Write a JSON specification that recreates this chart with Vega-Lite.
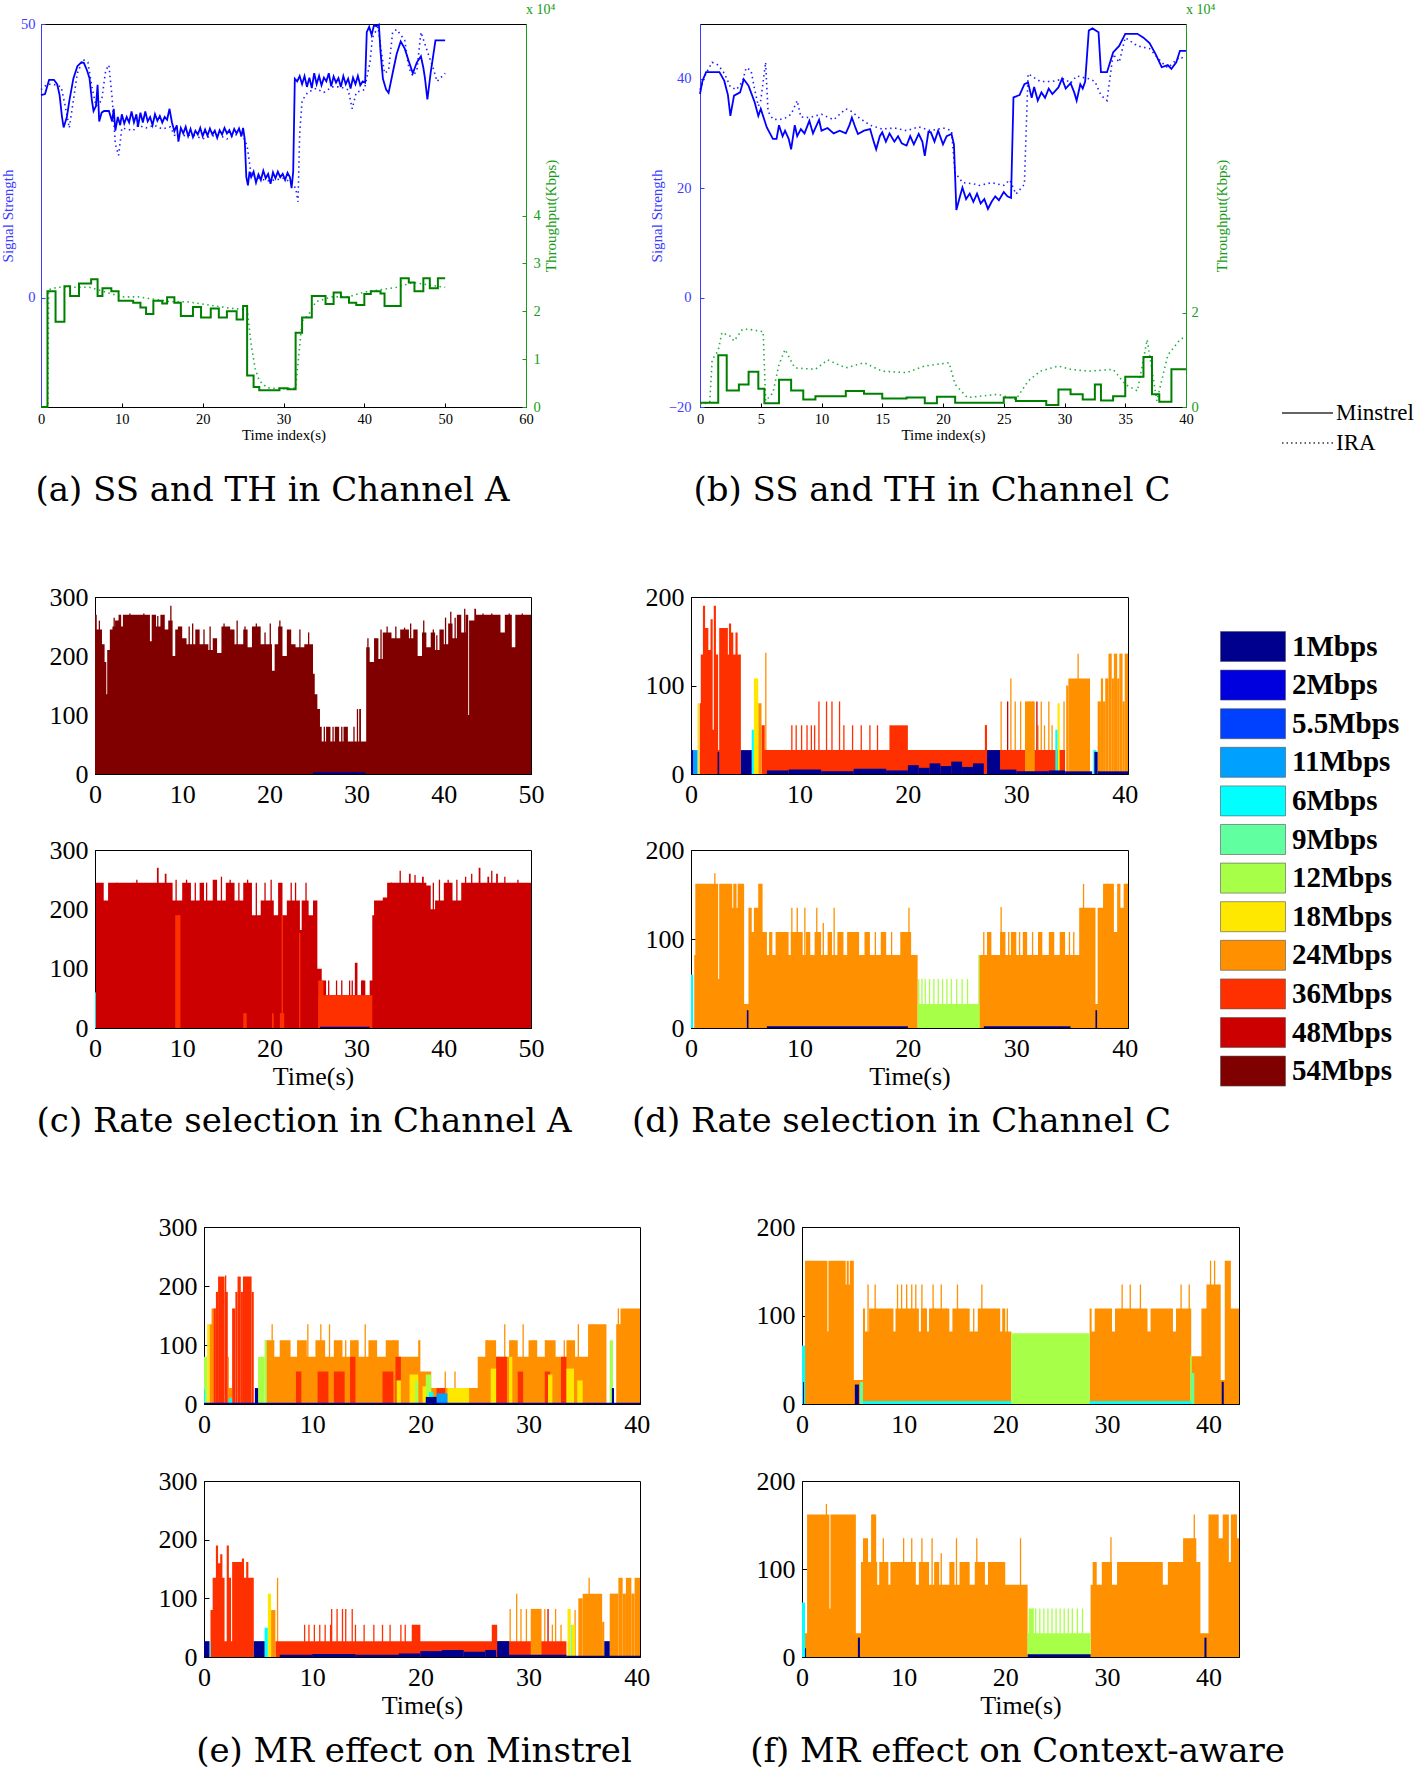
{
"$schema": "https://vega.github.io/schema/vega-lite/v6.json",
"background": "white",
"padding": {"left": 0, "top": 2, "right": 5, "bottom": 5},
"config": {
 "view": {"stroke": "black", "strokeWidth": 1},
 "font": "Liberation Serif",
 "axis": {"labelFont": "Liberation Serif", "titleFont": "Liberation Serif", "labelColor": "black", "titleColor": "black", "domainColor": "black", "tickColor": "black", "grid": false, "titleFontWeight": "normal", "domainWidth": 1},
 "title": {"font": "DejaVu Serif", "fontWeight": "normal", "color": "black"}
},
"datasets": {
 "algs": [{"alg":"Minstrel"},{"alg":"IRA"}],
 "ssAM": [{"t":0,"v":37},{"t":0.5,"v":37.2},{"t":1,"v":39.8},{"t":1.6,"v":39.8},{"t":2,"v":39},{"t":2.3,"v":37},{"t":2.6,"v":33},{"t":2.8,"v":31.1},{"t":3.2,"v":33},{"t":3.5,"v":35.9},{"t":4,"v":40},{"t":4.5,"v":42.3},{"t":5,"v":43},{"t":5.3,"v":42.9},{"t":5.7,"v":41.5},{"t":6,"v":40.1},{"t":6.3,"v":36},{"t":6.5,"v":34.1},{"t":6.8,"v":35},{"t":7,"v":38.9},{"t":7.2,"v":32.2},{"t":7.5,"v":33.8},{"t":7.8,"v":34.1},{"t":8.4,"v":34.1},{"t":8.8,"v":32.2},{"t":9,"v":34.5},{"t":9.2,"v":30.5},{"t":9.5,"v":33},{"t":9.8,"v":31.5},{"t":10,"v":33.5},{"t":10.3,"v":31.8},{"t":10.6,"v":33},{"t":10.9,"v":32},{"t":11.2,"v":34},{"t":11.5,"v":32},{"t":11.8,"v":33.5},{"t":12,"v":31.2},{"t":12.3,"v":33.8},{"t":12.6,"v":32},{"t":12.9,"v":34},{"t":13.2,"v":32.2},{"t":13.5,"v":33},{"t":13.8,"v":31.5},{"t":14.1,"v":33.5},{"t":14.4,"v":32.3},{"t":14.7,"v":33.2},{"t":15,"v":32},{"t":15.3,"v":33},{"t":15.6,"v":32.5},{"t":15.9,"v":34.5},{"t":16.2,"v":32},{"t":16.5,"v":30.4},{"t":16.8,"v":31.5},{"t":17,"v":28.5},{"t":17.3,"v":31},{"t":17.6,"v":30},{"t":17.9,"v":31.2},{"t":18.2,"v":29.5},{"t":18.5,"v":30.8},{"t":18.8,"v":29.3},{"t":19.1,"v":30.5},{"t":19.4,"v":29.8},{"t":19.7,"v":31},{"t":20,"v":29.5},{"t":20.3,"v":30.7},{"t":20.6,"v":29.6},{"t":20.9,"v":30.9},{"t":21.2,"v":29.8},{"t":21.5,"v":30.5},{"t":21.8,"v":29.2},{"t":22.1,"v":30.6},{"t":22.4,"v":29.8},{"t":22.7,"v":31},{"t":23,"v":30},{"t":23.3,"v":30.6},{"t":23.6,"v":29.5},{"t":23.9,"v":30.8},{"t":24.2,"v":30},{"t":24.5,"v":30.9},{"t":24.8,"v":29.5},{"t":25,"v":31},{"t":25.2,"v":29},{"t":25.4,"v":22},{"t":25.6,"v":20.5},{"t":25.8,"v":23},{"t":26,"v":22},{"t":26.3,"v":23},{"t":26.6,"v":21},{"t":26.9,"v":22.5},{"t":27.2,"v":21.5},{"t":27.5,"v":23.2},{"t":27.8,"v":21.8},{"t":28.1,"v":22.6},{"t":28.4,"v":20.8},{"t":28.7,"v":22.9},{"t":29,"v":21.8},{"t":29.3,"v":23},{"t":29.6,"v":22},{"t":29.9,"v":22.6},{"t":30.2,"v":21.5},{"t":30.5,"v":22.8},{"t":30.8,"v":22},{"t":31,"v":20},{"t":31.2,"v":23},{"t":31.4,"v":40},{"t":31.7,"v":39.5},{"t":32,"v":40.5},{"t":32.3,"v":39},{"t":32.6,"v":40.5},{"t":32.9,"v":38.5},{"t":33.2,"v":40.2},{"t":33.5,"v":38.3},{"t":33.8,"v":41},{"t":34.1,"v":39},{"t":34.4,"v":40.5},{"t":34.7,"v":38.8},{"t":35,"v":40.2},{"t":35.3,"v":39.5},{"t":35.6,"v":41},{"t":35.9,"v":38.6},{"t":36.2,"v":40.4},{"t":36.5,"v":39.3},{"t":36.8,"v":40.1},{"t":37.1,"v":38.5},{"t":37.4,"v":40.5},{"t":37.7,"v":39},{"t":38,"v":40},{"t":38.3,"v":38.2},{"t":38.6,"v":40.2},{"t":38.9,"v":39},{"t":39.2,"v":40.5},{"t":39.5,"v":38.8},{"t":39.8,"v":39.5},{"t":40.1,"v":39.3},{"t":40.3,"v":48.5},{"t":40.6,"v":49.5},{"t":40.9,"v":48},{"t":41.2,"v":49.8},{"t":41.5,"v":49.6},{"t":41.8,"v":49.9},{"t":42,"v":45},{"t":42.3,"v":40},{"t":42.7,"v":38},{"t":43,"v":37.4},{"t":43.5,"v":41},{"t":44,"v":44.5},{"t":44.5,"v":46.8},{"t":45,"v":45.5},{"t":45.5,"v":43.2},{"t":46,"v":41},{"t":46.5,"v":43},{"t":47,"v":44.1},{"t":47.3,"v":42},{"t":47.5,"v":40.1},{"t":47.8,"v":36.2},{"t":48.2,"v":41},{"t":48.8,"v":47},{"t":50,"v":47}],
 "ssAI": [{"t":0,"v":38},{"t":0.8,"v":39},{"t":1.5,"v":39},{"t":2.5,"v":38.5},{"t":3,"v":35},{"t":3.5,"v":31},{"t":4,"v":36},{"t":4.5,"v":41},{"t":5.2,"v":43.5},{"t":5.8,"v":43},{"t":6.3,"v":38.5},{"t":6.8,"v":35},{"t":7.5,"v":36},{"t":8,"v":41.5},{"t":8.4,"v":42.5},{"t":8.8,"v":36.5},{"t":9.2,"v":28},{"t":9.6,"v":26},{"t":10,"v":31},{"t":10.6,"v":30.8},{"t":11.4,"v":30.5},{"t":12,"v":31.5},{"t":13,"v":31},{"t":14,"v":31.5},{"t":15,"v":30.8},{"t":16,"v":31.2},{"t":16.5,"v":29.7},{"t":17,"v":29.4},{"t":18,"v":29.7},{"t":19,"v":29.6},{"t":20,"v":29},{"t":21,"v":29.5},{"t":22,"v":29.7},{"t":23,"v":29},{"t":24,"v":29.8},{"t":25,"v":29.5},{"t":25.5,"v":27.7},{"t":26,"v":22.5},{"t":27,"v":21.8},{"t":28,"v":21.3},{"t":29,"v":21.5},{"t":30,"v":21.8},{"t":31,"v":21},{"t":31.5,"v":20},{"t":31.8,"v":17.5},{"t":32,"v":30},{"t":32.3,"v":36},{"t":33,"v":37.5},{"t":34,"v":38.2},{"t":35,"v":37.5},{"t":36,"v":38.5},{"t":37,"v":38.5},{"t":38,"v":38},{"t":38.5,"v":34.5},{"t":39,"v":37.5},{"t":40,"v":38},{"t":40.7,"v":43},{"t":41,"v":47.5},{"t":41.7,"v":49.5},{"t":42,"v":46},{"t":42.5,"v":41},{"t":43,"v":41.5},{"t":43.5,"v":48.5},{"t":44,"v":49},{"t":45,"v":47},{"t":45.5,"v":42},{"t":46,"v":40.5},{"t":46.5,"v":41.5},{"t":47,"v":48.5},{"t":47.8,"v":45},{"t":48.5,"v":42},{"t":49,"v":39.5},{"t":50,"v":41}],
 "thAM": [{"t":0,"v":0},{"t":0.8,"v":2.42},{"t":1.8,"v":1.78},{"t":2.9,"v":2.52},{"t":3.6,"v":2.32},{"t":4.7,"v":2.58},{"t":6.2,"v":2.67},{"t":7,"v":2.32},{"t":7.6,"v":2.48},{"t":8.7,"v":2.42},{"t":9.6,"v":2.22},{"t":11.4,"v":2.18},{"t":12.3,"v":2.08},{"t":13,"v":1.94},{"t":13.9,"v":2.22},{"t":15,"v":2.16},{"t":15.6,"v":2.29},{"t":16.5,"v":2.18},{"t":17.3,"v":1.9},{"t":18.8,"v":2.09},{"t":19.8,"v":1.87},{"t":21,"v":2.06},{"t":22,"v":1.87},{"t":23,"v":2.0},{"t":24.2,"v":1.83},{"t":25,"v":2.11},{"t":25.5,"v":0.66},{"t":26.3,"v":0.42},{"t":27,"v":0.35},{"t":29.5,"v":0.39},{"t":30.5,"v":0.37},{"t":31.5,"v":1.55},{"t":32.3,"v":1.87},{"t":33.5,"v":2.32},{"t":35.2,"v":2.15},{"t":36.2,"v":2.39},{"t":37.1,"v":2.29},{"t":38.1,"v":2.18},{"t":39,"v":2.13},{"t":40,"v":2.36},{"t":40.8,"v":2.42},{"t":42,"v":2.37},{"t":42.5,"v":2.11},{"t":44.5,"v":2.69},{"t":45.5,"v":2.6},{"t":46.2,"v":2.42},{"t":47.3,"v":2.69},{"t":48.1,"v":2.48},{"t":49.1,"v":2.69},{"t":50,"v":2.69}],
 "thAI": [{"t":0,"v":0},{"t":0.85,"v":0},{"t":0.95,"v":2.45},{"t":2,"v":2.5},{"t":4,"v":2.5},{"t":6,"v":2.5},{"t":8,"v":2.4},{"t":10,"v":2.3},{"t":12,"v":2.3},{"t":14,"v":2.25},{"t":16,"v":2.2},{"t":18,"v":2.2},{"t":20,"v":2.15},{"t":22,"v":2.1},{"t":24,"v":2.05},{"t":25.5,"v":2.05},{"t":26,"v":1.3},{"t":26.5,"v":0.8},{"t":27,"v":0.55},{"t":28,"v":0.4},{"t":30,"v":0.38},{"t":31.5,"v":0.4},{"t":32.3,"v":1.8},{"t":33,"v":1.9},{"t":34,"v":2.2},{"t":36,"v":2.3},{"t":38,"v":2.3},{"t":40,"v":2.4},{"t":42,"v":2.45},{"t":44,"v":2.5},{"t":46,"v":2.6},{"t":48,"v":2.55},{"t":50,"v":2.5}],
 "ssBM": [{"t":0,"v":37.2},{"t":0.2,"v":39.6},{"t":0.5,"v":41.2},{"t":1.6,"v":41.2},{"t":2,"v":39.6},{"t":2.3,"v":37},{"t":2.5,"v":33.2},{"t":2.8,"v":36.9},{"t":3.3,"v":37.5},{"t":3.6,"v":39.9},{"t":4,"v":38.7},{"t":4.5,"v":35.7},{"t":4.8,"v":33.2},{"t":5,"v":34.5},{"t":5.5,"v":31.1},{"t":6,"v":29},{"t":6.3,"v":29},{"t":6.5,"v":31.5},{"t":6.8,"v":29.5},{"t":7,"v":30.5},{"t":7.3,"v":29},{"t":7.5,"v":27.1},{"t":7.8,"v":31.5},{"t":8,"v":29.5},{"t":8.3,"v":30.8},{"t":8.6,"v":30},{"t":9,"v":32.3},{"t":9.3,"v":30},{"t":9.5,"v":31},{"t":9.8,"v":32.5},{"t":10,"v":30.5},{"t":10.5,"v":31},{"t":11,"v":30},{"t":11.5,"v":30.5},{"t":12,"v":30},{"t":12.3,"v":31.5},{"t":12.5,"v":32.9},{"t":12.8,"v":31},{"t":13,"v":29.9},{"t":13.5,"v":30.5},{"t":14,"v":30.8},{"t":14.3,"v":28.5},{"t":14.5,"v":27.1},{"t":14.8,"v":29.5},{"t":15,"v":30.2},{"t":15.3,"v":28.5},{"t":15.6,"v":30},{"t":16,"v":28.5},{"t":16.3,"v":29.5},{"t":16.6,"v":28.2},{"t":17,"v":27.8},{"t":17.3,"v":29.5},{"t":17.6,"v":28},{"t":18,"v":29.9},{"t":18.3,"v":28.5},{"t":18.5,"v":25.9},{"t":18.8,"v":30.3},{"t":19,"v":30.2},{"t":19.3,"v":28.5},{"t":19.6,"v":30.5},{"t":20,"v":28},{"t":20.3,"v":29.5},{"t":20.7,"v":29.9},{"t":20.9,"v":28},{"t":21.1,"v":16},{"t":21.4,"v":18.5},{"t":21.6,"v":20.1},{"t":21.9,"v":18},{"t":22.2,"v":19},{"t":22.5,"v":17.5},{"t":22.8,"v":19},{"t":23.1,"v":17.2},{"t":23.4,"v":18},{"t":23.7,"v":16.2},{"t":24,"v":17.5},{"t":24.3,"v":18.5},{"t":24.6,"v":17.8},{"t":25,"v":19.3},{"t":25.3,"v":18.5},{"t":25.6,"v":18.2},{"t":25.8,"v":36.6},{"t":26.3,"v":37},{"t":26.7,"v":39},{"t":27,"v":39.3},{"t":27.3,"v":36.5},{"t":27.5,"v":38.5},{"t":27.8,"v":36},{"t":28.1,"v":37.5},{"t":28.4,"v":36.5},{"t":28.7,"v":38.2},{"t":29,"v":37.2},{"t":29.5,"v":38.4},{"t":29.8,"v":40},{"t":30.1,"v":38.2},{"t":30.5,"v":39.2},{"t":30.8,"v":37.5},{"t":31,"v":36},{"t":31.3,"v":39},{"t":31.5,"v":38.2},{"t":31.7,"v":39.5},{"t":32,"v":48.8},{"t":32.3,"v":49.2},{"t":32.8,"v":48.5},{"t":33,"v":41.2},{"t":33.5,"v":41.2},{"t":34,"v":44.8},{"t":34.5,"v":46},{"t":35,"v":48.2},{"t":36,"v":48.2},{"t":36.5,"v":47.5},{"t":37,"v":46.5},{"t":37.5,"v":44.5},{"t":38,"v":42.1},{"t":38.5,"v":42.5},{"t":38.8,"v":41.8},{"t":39.2,"v":43},{"t":39.5,"v":45.1},{"t":40,"v":45.1}],
 "ssBI": [{"t":0,"v":38},{"t":0.5,"v":41},{"t":1,"v":43},{"t":1.5,"v":42.5},{"t":2,"v":41},{"t":2.5,"v":38.5},{"t":3,"v":38},{"t":3.5,"v":39.5},{"t":3.8,"v":42},{"t":4.2,"v":41.5},{"t":4.5,"v":38},{"t":4.8,"v":35},{"t":5,"v":36},{"t":5.4,"v":43},{"t":5.6,"v":34},{"t":6,"v":32.6},{"t":6.5,"v":32.5},{"t":7,"v":32.8},{"t":7.5,"v":33.5},{"t":8,"v":36},{"t":8.3,"v":33},{"t":9,"v":32.9},{"t":10,"v":33.5},{"t":11,"v":32.5},{"t":12,"v":34.5},{"t":12.5,"v":34},{"t":13,"v":33},{"t":14,"v":31.5},{"t":15,"v":30.8},{"t":16,"v":31},{"t":17,"v":30.5},{"t":18,"v":31.2},{"t":19,"v":30.5},{"t":20,"v":31},{"t":20.7,"v":30.5},{"t":21,"v":22.6},{"t":21.3,"v":22},{"t":21.6,"v":21},{"t":22.5,"v":20.8},{"t":23,"v":20.5},{"t":24,"v":21},{"t":25,"v":20.5},{"t":25.5,"v":21.5},{"t":26,"v":18.9},{"t":26.7,"v":20.7},{"t":27,"v":40.9},{"t":28,"v":39.5},{"t":29,"v":39.5},{"t":30,"v":40},{"t":30.5,"v":39.2},{"t":31,"v":40.5},{"t":32,"v":40},{"t":32.5,"v":39.5},{"t":33,"v":37},{"t":33.5,"v":36},{"t":34,"v":44.5},{"t":34.5,"v":43},{"t":35,"v":47.5},{"t":36,"v":46},{"t":37,"v":45.5},{"t":38,"v":43},{"t":38.5,"v":42},{"t":39.5,"v":44},{"t":40,"v":43.5}],
 "thBM": [{"t":0,"v":0.09},{"t":1.5,"v":1.1},{"t":2.2,"v":0.35},{"t":3.2,"v":0.48},{"t":4,"v":0.75},{"t":4.8,"v":0.39},{"t":5.3,"v":0.08},{"t":6.5,"v":0.58},{"t":7.5,"v":0.35},{"t":8.5,"v":0.16},{"t":9.5,"v":0.23},{"t":12,"v":0.34},{"t":13.5,"v":0.28},{"t":15,"v":0.18},{"t":17,"v":0.2},{"t":18.5,"v":0.08},{"t":19.5,"v":0.22},{"t":21,"v":0.09},{"t":25,"v":0.2},{"t":26,"v":0.13},{"t":28.5,"v":0.04},{"t":29.5,"v":0.37},{"t":30.5,"v":0.27},{"t":31.5,"v":0.16},{"t":32.5,"v":0.48},{"t":33,"v":0.14},{"t":34,"v":0.23},{"t":35,"v":0.64},{"t":36.5,"v":1.06},{"t":37.2,"v":0.27},{"t":37.8,"v":0.11},{"t":38.8,"v":0.8},{"t":40,"v":0.8}],
 "thBI": [{"t":0,"v":0.05},{"t":0.8,"v":0.1},{"t":1,"v":1.0},{"t":1.5,"v":1.2},{"t":1.8,"v":1.58},{"t":2.5,"v":1.5},{"t":2.8,"v":1.4},{"t":3.5,"v":1.65},{"t":4,"v":1.65},{"t":5.2,"v":1.6},{"t":5.4,"v":0.13},{"t":6,"v":0.3},{"t":6.5,"v":0.9},{"t":7,"v":1.22},{"t":7.8,"v":0.83},{"t":9.5,"v":0.8},{"t":10.5,"v":1.0},{"t":12,"v":0.83},{"t":13.5,"v":0.94},{"t":15,"v":0.76},{"t":17,"v":0.73},{"t":18.5,"v":0.87},{"t":20.5,"v":0.94},{"t":21,"v":0.48},{"t":22,"v":0.2},{"t":24.5,"v":0.27},{"t":26,"v":0.16},{"t":27,"v":0.55},{"t":28,"v":0.76},{"t":29.5,"v":0.87},{"t":30.5,"v":0.8},{"t":32,"v":0.76},{"t":34,"v":0.8},{"t":35,"v":0.48},{"t":36,"v":0.34},{"t":36.8,"v":1.43},{"t":37.6,"v":0.13},{"t":38.5,"v":1.1},{"t":39.5,"v":1.43},{"t":40,"v":1.5}],
 "cTm": [{"t":0,"v":270},{"t":0.2,"v":245},{"t":0.8,"v":220},{"t":1.1,"v":190},{"t":1.3,"v":135},{"t":1.4,"v":210},{"t":1.7,"v":245},{"t":2,"v":250},{"t":2.3,"v":260},{"t":2.7,"v":270},{"t":3,"v":250},{"t":3.2,"v":270},{"t":6.3,"v":225},{"t":6.5,"v":270},{"t":7,"v":250},{"t":7.5,"v":270},{"t":8,"v":245},{"t":8.4,"v":260},{"t":8.9,"v":200},{"t":9.2,"v":245},{"t":9.5,"v":250},{"t":10,"v":230},{"t":10.5,"v":220},{"t":11.5,"v":245},{"t":12,"v":220},{"t":13,"v":210},{"t":13.5,"v":230},{"t":14,"v":205},{"t":14.5,"v":250},{"t":15.5,"v":245},{"t":16,"v":220},{"t":17,"v":245},{"t":17.5,"v":215},{"t":18,"v":250},{"t":19,"v":220},{"t":20.3,"v":175},{"t":20.6,"v":220},{"t":21,"v":250},{"t":21.5,"v":200},{"t":22,"v":245},{"t":22.5,"v":220},{"t":23,"v":215},{"t":24,"v":220},{"t":25,"v":170},{"t":25.2,"v":135},{"t":25.5,"v":110},{"t":25.8,"v":80},{"t":26,"v":55},{"t":26.5,"v":80},{"t":27,"v":55},{"t":27.5,"v":80},{"t":28,"v":55},{"t":28.5,"v":80},{"t":29,"v":55},{"t":30.3,"v":110},{"t":30.5,"v":55},{"t":31.1,"v":215},{"t":31.5,"v":190},{"t":32,"v":230},{"t":32.5,"v":195},{"t":33,"v":240},{"t":34,"v":230},{"t":35,"v":245},{"t":36,"v":230},{"t":36.5,"v":245},{"t":37,"v":200},{"t":37.5,"v":240},{"t":38,"v":215},{"t":38.5,"v":240},{"t":39,"v":210},{"t":39.5,"v":245},{"t":40,"v":220},{"t":40.5,"v":255},{"t":41,"v":230},{"t":41.5,"v":270},{"t":42,"v":240},{"t":42.5,"v":270},{"t":42.8,"v":100},{"t":42.9,"v":260},{"t":43.5,"v":280},{"t":43.7,"v":270},{"t":46.5,"v":240},{"t":47,"v":270},{"t":47.8,"v":215},{"t":48.2,"v":270},{"t":50,"v":270}],
 "cTs": [{"t":0.5,"v":260,"r":"54Mbps"},{"t":2.2,"v":265,"r":"54Mbps"},{"t":4,"v":272,"r":"54Mbps"},{"t":5.6,"v":272,"r":"54Mbps"},{"t":7.2,"v":268,"r":"54Mbps"},{"t":8.7,"v":285,"r":"54Mbps"},{"t":9.8,"v":245,"r":"54Mbps"},{"t":10.8,"v":250,"r":"54Mbps"},{"t":11.2,"v":255,"r":"54Mbps"},{"t":12.5,"v":245,"r":"54Mbps"},{"t":13.2,"v":250,"r":"54Mbps"},{"t":14.8,"v":255,"r":"54Mbps"},{"t":16.3,"v":260,"r":"54Mbps"},{"t":17.2,"v":250,"r":"54Mbps"},{"t":18.5,"v":255,"r":"54Mbps"},{"t":19.5,"v":240,"r":"54Mbps"},{"t":20.1,"v":255,"r":"54Mbps"},{"t":21.2,"v":260,"r":"54Mbps"},{"t":22.2,"v":240,"r":"54Mbps"},{"t":23.5,"v":245,"r":"54Mbps"},{"t":24.5,"v":240,"r":"54Mbps"},{"t":26.3,"v":80,"r":"54Mbps"},{"t":27.3,"v":80,"r":"54Mbps"},{"t":28.3,"v":80,"r":"54Mbps"},{"t":29.7,"v":80,"r":"54Mbps"},{"t":30.1,"v":110,"r":"54Mbps"},{"t":31.3,"v":230,"r":"54Mbps"},{"t":32.8,"v":245,"r":"54Mbps"},{"t":33.5,"v":250,"r":"54Mbps"},{"t":34.5,"v":250,"r":"54Mbps"},{"t":35.5,"v":248,"r":"54Mbps"},{"t":36.2,"v":255,"r":"54Mbps"},{"t":37.7,"v":260,"r":"54Mbps"},{"t":38.8,"v":245,"r":"54Mbps"},{"t":39.2,"v":235,"r":"54Mbps"},{"t":40.2,"v":265,"r":"54Mbps"},{"t":40.8,"v":275,"r":"54Mbps"},{"t":41.3,"v":265,"r":"54Mbps"},{"t":42.4,"v":280,"r":"54Mbps"},{"t":44.5,"v":272,"r":"54Mbps"},{"t":45.5,"v":272,"r":"54Mbps"},{"t":47.5,"v":272,"r":"54Mbps"},{"t":49,"v":272,"r":"54Mbps"}],
 "cTb": [{"t":25,"t2":31,"v":3,"r":"1Mbps"}],
 "cBm": [{"t":0,"v":60},{"t":0.1,"v":245},{"t":1,"v":215},{"t":1.5,"v":245},{"t":7.1,"v":270},{"t":7.3,"v":245},{"t":8,"v":260},{"t":8.2,"v":245},{"t":8.9,"v":215},{"t":10,"v":245},{"t":11,"v":215},{"t":12,"v":245},{"t":12.5,"v":215},{"t":13.5,"v":250},{"t":14,"v":215},{"t":15,"v":245},{"t":16,"v":215},{"t":17,"v":245},{"t":18,"v":190},{"t":19,"v":215},{"t":20.5,"v":190},{"t":21,"v":245},{"t":21.5,"v":190},{"t":22,"v":215},{"t":23.5,"v":165},{"t":23.7,"v":215},{"t":24.5,"v":190},{"t":25,"v":215},{"t":25.5,"v":100},{"t":26,"v":80},{"t":26.5,"v":55},{"t":29.8,"v":110},{"t":30.1,"v":55},{"t":30.5,"v":80},{"t":31,"v":55},{"t":31.5,"v":80},{"t":31.8,"v":190},{"t":32,"v":215},{"t":33,"v":220},{"t":33.5,"v":245},{"t":36,"v":260},{"t":36.2,"v":245},{"t":37.5,"v":255},{"t":37.7,"v":245},{"t":38,"v":240},{"t":38.5,"v":200},{"t":39,"v":215},{"t":40,"v":245},{"t":41,"v":215},{"t":42,"v":245},{"t":44,"v":270},{"t":44.2,"v":245},{"t":45,"v":255},{"t":45.2,"v":245},{"t":46,"v":260},{"t":46.2,"v":245},{"t":50,"v":245}],
 "cBs": [{"t":2.5,"v":245,"r":"48Mbps"},{"t":4.8,"v":250,"r":"48Mbps"},{"t":9.3,"v":250,"r":"48Mbps"},{"t":10.5,"v":250,"r":"48Mbps"},{"t":11.5,"v":245,"r":"48Mbps"},{"t":12.8,"v":245,"r":"48Mbps"},{"t":14.5,"v":255,"r":"48Mbps"},{"t":15.5,"v":250,"r":"48Mbps"},{"t":16.5,"v":245,"r":"48Mbps"},{"t":17.5,"v":250,"r":"48Mbps"},{"t":18.5,"v":245,"r":"48Mbps"},{"t":19.5,"v":245,"r":"48Mbps"},{"t":20.2,"v":250,"r":"48Mbps"},{"t":22.5,"v":245,"r":"48Mbps"},{"t":23,"v":245,"r":"48Mbps"},{"t":24.2,"v":245,"r":"48Mbps"},{"t":26.8,"v":80,"r":"48Mbps"},{"t":27.7,"v":80,"r":"48Mbps"},{"t":28.3,"v":80,"r":"48Mbps"},{"t":29.2,"v":80,"r":"48Mbps"},{"t":29.5,"v":80,"r":"48Mbps"},{"t":30.7,"v":80,"r":"48Mbps"},{"t":34,"v":245,"r":"48Mbps"},{"t":35,"v":265,"r":"48Mbps"},{"t":36.7,"v":258,"r":"48Mbps"},{"t":38.8,"v":245,"r":"48Mbps"},{"t":39.5,"v":250,"r":"48Mbps"},{"t":40.5,"v":250,"r":"48Mbps"},{"t":41.5,"v":250,"r":"48Mbps"},{"t":42.5,"v":255,"r":"48Mbps"},{"t":43.2,"v":260,"r":"48Mbps"},{"t":45.5,"v":265,"r":"48Mbps"},{"t":47,"v":255,"r":"48Mbps"},{"t":48.5,"v":250,"r":"48Mbps"}],
 "cBb": [{"t":9.2,"t2":9.8,"v":190,"r":"36Mbps"},{"t":17,"t2":17.4,"v":25,"r":"36Mbps"},{"t":20.3,"t2":20.5,"v":25,"r":"36Mbps"},{"t":21.2,"t2":21.7,"v":25,"r":"36Mbps"},{"t":21.4,"t2":21.55,"v":190,"r":"36Mbps"},{"t":23.4,"t2":23.55,"v":160,"r":"36Mbps"},{"t":25.6,"t2":31.8,"v":55,"r":"36Mbps"},{"t":25.6,"t2":26.2,"v":80,"r":"36Mbps"},{"t":0,"t2":0.1,"v":60,"r":"6Mbps"},{"t":25.8,"t2":31.5,"v":2,"r":"1Mbps"}],
 "dTm": [{"t":0,"v":0},{"t":0.8,"v":80},{"t":0.9,"v":135},{"t":1.1,"v":190},{"t":1.3,"v":165},{"t":1.6,"v":140},{"t":1.8,"v":175},{"t":2,"v":50},{"t":2.1,"v":190},{"t":2.3,"v":135},{"t":2.5,"v":27},{"t":2.6,"v":165},{"t":3.4,"v":135},{"t":3.5,"v":170},{"t":3.7,"v":160},{"t":3.9,"v":135},{"t":4.1,"v":160},{"t":4.3,"v":135},{"t":4.6,"v":0},{"t":6.5,"v":55},{"t":6.8,"v":27},{"t":27.1,"v":55},{"t":27.3,"v":27},{"t":34.5,"v":0},{"t":40.3,"v":0}],
 "dTs": [{"t":9.3,"v":55,"r":"36Mbps"},{"t":9.7,"v":55,"r":"36Mbps"},{"t":10.2,"v":55,"r":"36Mbps"},{"t":10.7,"v":55,"r":"36Mbps"},{"t":11.1,"v":55,"r":"36Mbps"},{"t":11.4,"v":55,"r":"36Mbps"},{"t":14.1,"v":55,"r":"36Mbps"},{"t":14.9,"v":55,"r":"36Mbps"},{"t":15.7,"v":55,"r":"36Mbps"},{"t":16.5,"v":55,"r":"36Mbps"},{"t":17.2,"v":55,"r":"36Mbps"},{"t":11.8,"v":82,"r":"36Mbps"},{"t":12.5,"v":82,"r":"36Mbps"},{"t":13,"v":82,"r":"36Mbps"},{"t":13.7,"v":82,"r":"36Mbps"},{"t":6.9,"v":137,"r":"24Mbps"},{"t":28.6,"v":82,"r":"24Mbps"},{"t":29.5,"v":108,"r":"24Mbps"},{"t":29.9,"v":82,"r":"24Mbps"},{"t":30.4,"v":82,"r":"24Mbps"},{"t":31.2,"v":82,"r":"24Mbps"},{"t":31.5,"v":82,"r":"24Mbps"},{"t":32,"v":55,"r":"24Mbps"},{"t":32.3,"v":82,"r":"24Mbps"},{"t":32.6,"v":55,"r":"24Mbps"},{"t":33,"v":82,"r":"24Mbps"},{"t":33.3,"v":55,"r":"24Mbps"},{"t":34.4,"v":82,"r":"24Mbps"},{"t":35.7,"v":136,"r":"24Mbps"},{"t":29.2,"v":82,"r":"48Mbps"},{"t":27.2,"v":55,"r":"48Mbps"},{"t":31.9,"v":82,"r":"48Mbps"}],
 "dTb": [{"t":18.3,"t2":20,"v":55,"r":"36Mbps"},{"t":6.2,"t2":6.5,"v":80,"r":"24Mbps"},{"t":30.8,"t2":31.7,"v":82,"r":"24Mbps"},{"t":34.6,"t2":34.8,"v":100,"r":"24Mbps"},{"t":34.8,"t2":36.8,"v":108,"r":"24Mbps"},{"t":37.5,"t2":37.8,"v":82,"r":"24Mbps"},{"t":37.8,"t2":38,"v":108,"r":"24Mbps"},{"t":38,"t2":38.2,"v":82,"r":"24Mbps"},{"t":38.2,"t2":38.5,"v":108,"r":"24Mbps"},{"t":38.5,"t2":38.8,"v":136,"r":"24Mbps"},{"t":38.8,"t2":39,"v":108,"r":"24Mbps"},{"t":39,"t2":39.3,"v":136,"r":"24Mbps"},{"t":39.3,"t2":39.5,"v":108,"r":"24Mbps"},{"t":39.5,"t2":39.8,"v":136,"r":"24Mbps"},{"t":39.8,"t2":40,"v":82,"r":"24Mbps"},{"t":40,"t2":40.3,"v":136,"r":"24Mbps"},{"t":0.6,"t2":0.75,"v":80,"r":"18Mbps"},{"t":5.8,"t2":6.2,"v":108,"r":"18Mbps"},{"t":33.8,"t2":34,"v":80,"r":"18Mbps"},{"t":5.6,"t2":5.8,"v":50,"r":"6Mbps"},{"t":33.6,"t2":33.8,"v":50,"r":"6Mbps"},{"t":37.1,"t2":37.4,"v":27,"r":"6Mbps"},{"t":0.2,"t2":0.6,"v":27,"r":"11Mbps"},{"t":0,"t2":0.2,"v":27,"r":"1Mbps"},{"t":4.6,"t2":5.6,"v":27,"r":"1Mbps"},{"t":27.3,"t2":28.5,"v":27,"r":"1Mbps"},{"t":37.2,"t2":37.5,"v":25,"r":"1Mbps"},{"t":2.45,"t2":2.6,"v":25,"r":"1Mbps"},{"t":7,"t2":9,"v":4,"r":"1Mbps"},{"t":9,"t2":12,"v":5,"r":"1Mbps"},{"t":12,"t2":15,"v":3,"r":"1Mbps"},{"t":15,"t2":18,"v":6,"r":"1Mbps"},{"t":18,"t2":20,"v":4,"r":"1Mbps"},{"t":20,"t2":21,"v":10,"r":"1Mbps"},{"t":21,"t2":22,"v":7,"r":"1Mbps"},{"t":22,"t2":23,"v":12,"r":"1Mbps"},{"t":23,"t2":24,"v":9,"r":"1Mbps"},{"t":24,"t2":25,"v":14,"r":"1Mbps"},{"t":25,"t2":26,"v":8,"r":"1Mbps"},{"t":26,"t2":27,"v":12,"r":"1Mbps"},{"t":28.5,"t2":30,"v":5,"r":"1Mbps"},{"t":30,"t2":33,"v":3,"r":"1Mbps"},{"t":33,"t2":34.5,"v":4,"r":"1Mbps"},{"t":34.5,"t2":37,"v":3,"r":"1Mbps"},{"t":37.5,"t2":40.3,"v":3,"r":"1Mbps"}],
 "dBm": [{"t":0,"v":0},{"t":0.3,"v":82},{"t":0.4,"v":162},{"t":2.5,"v":55},{"t":2.6,"v":162},{"t":3.8,"v":135},{"t":3.9,"v":162},{"t":4.2,"v":135},{"t":4.3,"v":162},{"t":4.9,"v":27},{"t":5.3,"v":135},{"t":5.6,"v":108},{"t":5.8,"v":135},{"t":6.2,"v":162},{"t":6.6,"v":108},{"t":7,"v":82},{"t":7.2,"v":108},{"t":7.5,"v":82},{"t":7.8,"v":108},{"t":9,"v":82},{"t":9.2,"v":108},{"t":10.3,"v":82},{"t":10.6,"v":108},{"t":11,"v":82},{"t":11.4,"v":108},{"t":12,"v":82},{"t":12.6,"v":108},{"t":13,"v":82},{"t":13.5,"v":108},{"t":14,"v":82},{"t":14.4,"v":108},{"t":15.5,"v":82},{"t":16,"v":108},{"t":16.5,"v":82},{"t":17.5,"v":108},{"t":18,"v":82},{"t":19.3,"v":108},{"t":20.3,"v":82},{"t":20.9,"v":0},{"t":26.6,"v":82},{"t":27.3,"v":108},{"t":27.7,"v":82},{"t":28.5,"v":108},{"t":29,"v":82},{"t":29.5,"v":108},{"t":30,"v":82},{"t":30.6,"v":108},{"t":31,"v":82},{"t":32,"v":108},{"t":32.4,"v":82},{"t":33,"v":108},{"t":33.5,"v":82},{"t":34,"v":108},{"t":34.5,"v":82},{"t":35.8,"v":135},{"t":37.3,"v":27},{"t":37.5,"v":135},{"t":38,"v":162},{"t":39,"v":108},{"t":39.3,"v":162},{"t":39.6,"v":135},{"t":39.9,"v":162},{"t":40.3,"v":162}],
 "dBs": [{"t":2.2,"v":174,"r":"24Mbps"},{"t":8.2,"v":108,"r":"24Mbps"},{"t":9.3,"v":135,"r":"24Mbps"},{"t":9.8,"v":135,"r":"24Mbps"},{"t":10.5,"v":135,"r":"24Mbps"},{"t":11.6,"v":135,"r":"24Mbps"},{"t":12.2,"v":118,"r":"24Mbps"},{"t":13.2,"v":135,"r":"24Mbps"},{"t":14,"v":108,"r":"24Mbps"},{"t":15.2,"v":108,"r":"24Mbps"},{"t":17,"v":108,"r":"24Mbps"},{"t":18.5,"v":108,"r":"24Mbps"},{"t":20.1,"v":135,"r":"24Mbps"},{"t":27,"v":108,"r":"24Mbps"},{"t":28.6,"v":136,"r":"24Mbps"},{"t":29.3,"v":108,"r":"24Mbps"},{"t":30.3,"v":108,"r":"24Mbps"},{"t":31.5,"v":108,"r":"24Mbps"},{"t":33.2,"v":108,"r":"24Mbps"},{"t":34.2,"v":108,"r":"24Mbps"},{"t":34.9,"v":108,"r":"24Mbps"},{"t":35.3,"v":108,"r":"24Mbps"},{"t":36.2,"v":162,"r":"24Mbps"},{"t":38.4,"v":162,"r":"24Mbps"},{"t":40.2,"v":162,"r":"24Mbps"},{"t":21,"v":55,"r":"12Mbps"},{"t":21.3,"v":55,"r":"12Mbps"},{"t":21.6,"v":55,"r":"12Mbps"},{"t":22,"v":55,"r":"12Mbps"},{"t":22.4,"v":55,"r":"12Mbps"},{"t":22.8,"v":55,"r":"12Mbps"},{"t":23.2,"v":55,"r":"12Mbps"},{"t":23.6,"v":55,"r":"12Mbps"},{"t":24,"v":55,"r":"12Mbps"},{"t":24.5,"v":55,"r":"12Mbps"},{"t":25,"v":55,"r":"12Mbps"},{"t":25.5,"v":55,"r":"12Mbps"},{"t":26.55,"v":82,"r":"12Mbps"}],
 "dBb": [{"t":20.9,"t2":26.6,"v":27,"r":"12Mbps"},{"t":0,"t2":0.2,"v":60,"r":"6Mbps"},{"t":5.15,"t2":5.3,"v":20,"r":"1Mbps"},{"t":37.3,"t2":37.45,"v":20,"r":"1Mbps"},{"t":7,"t2":20,"v":2,"r":"1Mbps"},{"t":27,"t2":35,"v":2,"r":"1Mbps"}],
 "eTm": [{"t":0,"v":0},{"t":0.5,"v":135},{"t":0.7,"v":162},{"t":1,"v":0},{"t":2.2,"v":80},{"t":2.3,"v":27},{"t":2.6,"v":0},{"t":5.7,"v":108},{"t":6.5,"v":80},{"t":7,"v":108},{"t":8,"v":80},{"t":8.6,"v":108},{"t":9.5,"v":80},{"t":10.3,"v":108},{"t":11.2,"v":80},{"t":12,"v":108},{"t":12.8,"v":80},{"t":13.5,"v":108},{"t":14.3,"v":80},{"t":15.2,"v":108},{"t":16,"v":80},{"t":16.8,"v":108},{"t":18,"v":80},{"t":19.8,"v":108},{"t":20,"v":55},{"t":21,"v":27},{"t":25.3,"v":80},{"t":26,"v":108},{"t":27,"v":80},{"t":28.2,"v":108},{"t":29,"v":80},{"t":30,"v":108},{"t":30.8,"v":80},{"t":31.5,"v":108},{"t":32.5,"v":80},{"t":33.5,"v":108},{"t":34.3,"v":80},{"t":35.5,"v":135},{"t":37.2,"v":0},{"t":38.1,"v":135},{"t":38.5,"v":162},{"t":40.3,"v":162}],
 "eTs": [{"t":6.3,"v":135,"r":"24Mbps"},{"t":9.6,"v":135,"r":"24Mbps"},{"t":10.8,"v":135,"r":"24Mbps"},{"t":11.6,"v":135,"r":"24Mbps"},{"t":13.1,"v":108,"r":"24Mbps"},{"t":14,"v":108,"r":"24Mbps"},{"t":14.9,"v":135,"r":"24Mbps"},{"t":17.5,"v":108,"r":"24Mbps"},{"t":22.3,"v":55,"r":"24Mbps"},{"t":23.2,"v":55,"r":"24Mbps"},{"t":26.2,"v":108,"r":"24Mbps"},{"t":27.8,"v":135,"r":"24Mbps"},{"t":28.5,"v":108,"r":"24Mbps"},{"t":29.5,"v":135,"r":"24Mbps"},{"t":30.5,"v":108,"r":"24Mbps"},{"t":31.6,"v":108,"r":"24Mbps"},{"t":33.3,"v":108,"r":"24Mbps"},{"t":34.6,"v":135,"r":"24Mbps"},{"t":36,"v":135,"r":"24Mbps"},{"t":38.3,"v":162,"r":"24Mbps"},{"t":2,"v":218,"r":"36Mbps"},{"t":0.4,"v":135,"r":"18Mbps"}],
 "eTb": [{"t":0.9,"t2":1.1,"v":162,"r":"36Mbps"},{"t":1.1,"t2":1.3,"v":190,"r":"36Mbps"},{"t":1.3,"t2":1.9,"v":216,"r":"36Mbps"},{"t":1.9,"t2":2.2,"v":190,"r":"36Mbps"},{"t":2.6,"t2":2.9,"v":162,"r":"36Mbps"},{"t":2.9,"t2":3.1,"v":190,"r":"36Mbps"},{"t":3.1,"t2":3.4,"v":216,"r":"36Mbps"},{"t":3.4,"t2":3.6,"v":190,"r":"36Mbps"},{"t":3.6,"t2":4.4,"v":216,"r":"36Mbps"},{"t":4.4,"t2":4.6,"v":190,"r":"36Mbps"},{"t":8.5,"t2":9,"v":55,"r":"36Mbps"},{"t":10.5,"t2":11.5,"v":55,"r":"36Mbps"},{"t":12,"t2":13,"v":55,"r":"36Mbps"},{"t":13.5,"t2":14,"v":80,"r":"36Mbps"},{"t":16.5,"t2":17.5,"v":55,"r":"36Mbps"},{"t":17.7,"t2":18.2,"v":80,"r":"36Mbps"},{"t":27,"t2":28,"v":80,"r":"36Mbps"},{"t":29,"t2":29.5,"v":55,"r":"36Mbps"},{"t":31.5,"t2":32,"v":55,"r":"36Mbps"},{"t":33,"t2":33.5,"v":80,"r":"36Mbps"},{"t":21.5,"t2":22.3,"v":27,"r":"36Mbps"},{"t":0.3,"t2":0.5,"v":135,"r":"18Mbps"},{"t":17.8,"t2":18.2,"v":40,"r":"18Mbps"},{"t":19,"t2":19.8,"v":50,"r":"18Mbps"},{"t":20.2,"t2":21,"v":30,"r":"18Mbps"},{"t":22.5,"t2":24.5,"v":27,"r":"18Mbps"},{"t":26.5,"t2":27,"v":60,"r":"18Mbps"},{"t":28.2,"t2":28.5,"v":80,"r":"18Mbps"},{"t":31.8,"t2":32.2,"v":50,"r":"18Mbps"},{"t":33.5,"t2":34.2,"v":60,"r":"18Mbps"},{"t":34.5,"t2":35,"v":40,"r":"18Mbps"},{"t":0,"t2":0.3,"v":80,"r":"12Mbps"},{"t":5,"t2":5.6,"v":80,"r":"12Mbps"},{"t":5.6,"t2":5.8,"v":108,"r":"12Mbps"},{"t":19.5,"t2":19.8,"v":40,"r":"12Mbps"},{"t":20.5,"t2":21,"v":50,"r":"12Mbps"},{"t":37.5,"t2":37.8,"v":108,"r":"12Mbps"},{"t":0,"t2":0.1,"v":25,"r":"6Mbps"},{"t":2.3,"t2":2.6,"v":10,"r":"6Mbps"},{"t":20.8,"t2":21.2,"v":20,"r":"6Mbps"},{"t":21.5,"t2":22.5,"v":18,"r":"11Mbps"},{"t":4.7,"t2":5,"v":27,"r":"1Mbps"},{"t":37.7,"t2":37.9,"v":27,"r":"1Mbps"},{"t":20.5,"t2":21.5,"v":12,"r":"1Mbps"},{"t":0,"t2":40.3,"v":2,"r":"1Mbps"}],
 "eBm": [{"t":0,"v":0},{"t":0.6,"v":80},{"t":0.8,"v":135},{"t":1.1,"v":190},{"t":1.3,"v":160},{"t":1.5,"v":175},{"t":1.7,"v":135},{"t":1.9,"v":27},{"t":2.1,"v":190},{"t":2.3,"v":135},{"t":2.5,"v":27},{"t":2.6,"v":162},{"t":3.5,"v":168},{"t":3.7,"v":135},{"t":3.9,"v":162},{"t":4.1,"v":135},{"t":4.6,"v":0},{"t":6.6,"v":27},{"t":26.6,"v":55},{"t":27.1,"v":27},{"t":33.5,"v":0},{"t":40.3,"v":0}],
 "eBs": [{"t":9.3,"v":55,"r":"36Mbps"},{"t":9.7,"v":55,"r":"36Mbps"},{"t":10.2,"v":55,"r":"36Mbps"},{"t":10.7,"v":55,"r":"36Mbps"},{"t":11.2,"v":55,"r":"36Mbps"},{"t":11.7,"v":55,"r":"36Mbps"},{"t":14,"v":55,"r":"36Mbps"},{"t":14.8,"v":55,"r":"36Mbps"},{"t":15.7,"v":55,"r":"36Mbps"},{"t":16.5,"v":55,"r":"36Mbps"},{"t":17.2,"v":55,"r":"36Mbps"},{"t":18.2,"v":55,"r":"36Mbps"},{"t":18.6,"v":55,"r":"36Mbps"},{"t":11.8,"v":82,"r":"36Mbps"},{"t":12.3,"v":82,"r":"36Mbps"},{"t":12.8,"v":82,"r":"36Mbps"},{"t":13.1,"v":82,"r":"36Mbps"},{"t":13.7,"v":82,"r":"36Mbps"},{"t":6.8,"v":135,"r":"24Mbps"},{"t":28.3,"v":82,"r":"24Mbps"},{"t":28.9,"v":108,"r":"24Mbps"},{"t":29.3,"v":82,"r":"24Mbps"},{"t":29.8,"v":82,"r":"24Mbps"},{"t":31.5,"v":82,"r":"24Mbps"},{"t":32.2,"v":55,"r":"24Mbps"},{"t":32.5,"v":82,"r":"24Mbps"},{"t":33,"v":55,"r":"24Mbps"},{"t":34.3,"v":80,"r":"24Mbps"},{"t":35.6,"v":135,"r":"24Mbps"},{"t":30.6,"v":82,"r":"48Mbps"},{"t":31.8,"v":82,"r":"48Mbps"}],
 "eBb": [{"t":19.2,"t2":20,"v":55,"r":"36Mbps"},{"t":6.2,"t2":6.6,"v":80,"r":"24Mbps"},{"t":30.2,"t2":31.2,"v":82,"r":"24Mbps"},{"t":34.6,"t2":35,"v":100,"r":"24Mbps"},{"t":35,"t2":36.8,"v":108,"r":"24Mbps"},{"t":36.8,"t2":37,"v":60,"r":"24Mbps"},{"t":37.5,"t2":38.3,"v":108,"r":"24Mbps"},{"t":38.3,"t2":38.7,"v":135,"r":"24Mbps"},{"t":38.7,"t2":39,"v":108,"r":"24Mbps"},{"t":39,"t2":39.5,"v":135,"r":"24Mbps"},{"t":39.5,"t2":39.8,"v":108,"r":"24Mbps"},{"t":39.8,"t2":40.3,"v":135,"r":"24Mbps"},{"t":5.9,"t2":6.2,"v":108,"r":"18Mbps"},{"t":33.6,"t2":33.9,"v":82,"r":"18Mbps"},{"t":34,"t2":34.3,"v":55,"r":"18Mbps"},{"t":33.9,"t2":34,"v":55,"r":"9Mbps"},{"t":5.6,"t2":5.9,"v":50,"r":"6Mbps"},{"t":0.5,"t2":0.6,"v":27,"r":"6Mbps"},{"t":0,"t2":0.5,"v":27,"r":"1Mbps"},{"t":4.6,"t2":5.6,"v":27,"r":"1Mbps"},{"t":27.1,"t2":28.2,"v":27,"r":"1Mbps"},{"t":37,"t2":37.5,"v":27,"r":"1Mbps"},{"t":7,"t2":10,"v":4,"r":"1Mbps"},{"t":10,"t2":14,"v":5,"r":"1Mbps"},{"t":14,"t2":18,"v":4,"r":"1Mbps"},{"t":18,"t2":20,"v":6,"r":"1Mbps"},{"t":20,"t2":22,"v":10,"r":"1Mbps"},{"t":22,"t2":24,"v":12,"r":"1Mbps"},{"t":24,"t2":26,"v":9,"r":"1Mbps"},{"t":26,"t2":27,"v":12,"r":"1Mbps"},{"t":28.2,"t2":33.5,"v":4,"r":"1Mbps"},{"t":33.5,"t2":40.3,"v":2,"r":"1Mbps"}],
 "fTm": [{"t":0,"v":0},{"t":0.3,"v":162},{"t":2.5,"v":82},{"t":2.6,"v":162},{"t":4.3,"v":135},{"t":4.4,"v":162},{"t":4.6,"v":135},{"t":4.7,"v":162},{"t":5.1,"v":27},{"t":6,"v":108},{"t":6.2,"v":82},{"t":6.6,"v":108},{"t":9,"v":82},{"t":9.2,"v":108},{"t":11.5,"v":82},{"t":11.7,"v":108},{"t":12.3,"v":82},{"t":12.5,"v":108},{"t":14.5,"v":82},{"t":14.8,"v":108},{"t":16.5,"v":82},{"t":17.3,"v":108},{"t":19.5,"v":82},{"t":19.7,"v":108},{"t":20,"v":82},{"t":20.6,"v":0},{"t":28.3,"v":108},{"t":28.5,"v":82},{"t":28.8,"v":108},{"t":30.5,"v":82},{"t":30.8,"v":108},{"t":34,"v":82},{"t":34.3,"v":108},{"t":36.5,"v":82},{"t":36.8,"v":108},{"t":38.3,"v":54},{"t":39.3,"v":108},{"t":39.8,"v":135},{"t":41.2,"v":27},{"t":41.6,"v":162},{"t":42.2,"v":108},{"t":43,"v":108}],
 "fTs": [{"t":6.5,"v":135,"r":"24Mbps"},{"t":7.2,"v":135,"r":"24Mbps"},{"t":9.4,"v":135,"r":"24Mbps"},{"t":9.8,"v":135,"r":"24Mbps"},{"t":10.3,"v":135,"r":"24Mbps"},{"t":10.8,"v":135,"r":"24Mbps"},{"t":11.2,"v":135,"r":"24Mbps"},{"t":11.8,"v":135,"r":"24Mbps"},{"t":12.9,"v":135,"r":"24Mbps"},{"t":13.7,"v":135,"r":"24Mbps"},{"t":15.3,"v":135,"r":"24Mbps"},{"t":17.7,"v":135,"r":"24Mbps"},{"t":31.5,"v":135,"r":"24Mbps"},{"t":32.3,"v":135,"r":"24Mbps"},{"t":33.3,"v":135,"r":"24Mbps"},{"t":37.3,"v":135,"r":"24Mbps"},{"t":38.1,"v":135,"r":"24Mbps"},{"t":12.1,"v":108,"r":"24Mbps"},{"t":13.1,"v":108,"r":"24Mbps"},{"t":14.2,"v":108,"r":"24Mbps"},{"t":16.9,"v":108,"r":"24Mbps"},{"t":20.2,"v":108,"r":"24Mbps"},{"t":40.2,"v":162,"r":"24Mbps"},{"t":40.6,"v":162,"r":"24Mbps"}],
 "fTb": [{"t":20.6,"t2":28.3,"v":80,"r":"12Mbps"},{"t":38.2,"t2":38.35,"v":55,"r":"12Mbps"},{"t":5.7,"t2":6,"v":25,"r":"9Mbps"},{"t":38.3,"t2":38.6,"v":35,"r":"9Mbps"},{"t":0,"t2":0.3,"v":66,"r":"6Mbps"},{"t":6,"t2":20.6,"v":3,"r":"6Mbps"},{"t":28.3,"t2":38.3,"v":3,"r":"6Mbps"},{"t":5.2,"t2":5.6,"v":22,"r":"1Mbps"},{"t":41.3,"t2":41.5,"v":25,"r":"1Mbps"},{"t":0.1,"t2":0.2,"v":25,"r":"1Mbps"}],
 "fBm": [{"t":0,"v":0},{"t":0.3,"v":27},{"t":0.5,"v":162},{"t":2.7,"v":55},{"t":2.8,"v":162},{"t":5.3,"v":27},{"t":5.8,"v":108},{"t":6,"v":135},{"t":6.5,"v":108},{"t":6.8,"v":162},{"t":7.3,"v":108},{"t":7.4,"v":82},{"t":7.6,"v":108},{"t":8.5,"v":82},{"t":8.7,"v":108},{"t":11.2,"v":82},{"t":11.5,"v":108},{"t":12.5,"v":82},{"t":13,"v":108},{"t":13.5,"v":82},{"t":14.5,"v":108},{"t":15,"v":82},{"t":15.5,"v":108},{"t":16.5,"v":82},{"t":17,"v":108},{"t":18,"v":82},{"t":18.3,"v":108},{"t":20,"v":82},{"t":22.2,"v":0},{"t":28.4,"v":82},{"t":28.6,"v":108},{"t":29,"v":82},{"t":29.5,"v":108},{"t":30.5,"v":82},{"t":31,"v":108},{"t":35.5,"v":82},{"t":36,"v":108},{"t":37.5,"v":135},{"t":38.8,"v":108},{"t":39.2,"v":27},{"t":40,"v":162},{"t":41,"v":135},{"t":41.4,"v":162},{"t":42,"v":108},{"t":42.2,"v":162},{"t":42.8,"v":135},{"t":43,"v":135}],
 "fBs": [{"t":2.4,"v":174,"r":"24Mbps"},{"t":7,"v":162,"r":"24Mbps"},{"t":8,"v":135,"r":"24Mbps"},{"t":10,"v":135,"r":"24Mbps"},{"t":10.8,"v":135,"r":"24Mbps"},{"t":11.8,"v":135,"r":"24Mbps"},{"t":12.8,"v":135,"r":"24Mbps"},{"t":13.7,"v":118,"r":"24Mbps"},{"t":15.2,"v":135,"r":"24Mbps"},{"t":17.2,"v":135,"r":"24Mbps"},{"t":21.5,"v":135,"r":"24Mbps"},{"t":30.4,"v":136,"r":"24Mbps"},{"t":38.6,"v":162,"r":"24Mbps"},{"t":42.6,"v":162,"r":"24Mbps"},{"t":22.4,"v":55,"r":"12Mbps"},{"t":22.7,"v":55,"r":"12Mbps"},{"t":23,"v":55,"r":"12Mbps"},{"t":23.4,"v":55,"r":"12Mbps"},{"t":23.8,"v":55,"r":"12Mbps"},{"t":24.2,"v":55,"r":"12Mbps"},{"t":24.6,"v":55,"r":"12Mbps"},{"t":25,"v":55,"r":"12Mbps"},{"t":25.4,"v":55,"r":"12Mbps"},{"t":25.8,"v":55,"r":"12Mbps"},{"t":26.2,"v":55,"r":"12Mbps"},{"t":26.6,"v":55,"r":"12Mbps"},{"t":27.1,"v":55,"r":"12Mbps"},{"t":27.6,"v":55,"r":"12Mbps"}],
 "fBb": [{"t":22.2,"t2":28.4,"v":27,"r":"12Mbps"},{"t":22.3,"t2":22.8,"v":55,"r":"12Mbps"},{"t":0,"t2":0.3,"v":62,"r":"6Mbps"},{"t":5.5,"t2":5.7,"v":22,"r":"1Mbps"},{"t":39.6,"t2":39.8,"v":22,"r":"1Mbps"},{"t":0.3,"t2":0.4,"v":10,"r":"1Mbps"},{"t":22.2,"t2":28.4,"v":3,"r":"1Mbps"}]
},
"spacing": 0,
"resolve": {"scale": {"color": "independent"}, "legend": {"color": "independent"}},
"vconcat": [
 {
  "columns": 7, "align": "each", "bounds": "flush", "spacing": {"row": 6, "column": 0},
  "resolve": {"scale": {"color": "independent"}, "legend": {"color": "independent"}},
  "concat": [
   {"width": 41, "height": 1, "data": {"values": []}, "mark": "point", "view": {"stroke": null}},
   {
    "width": 485, "height": 383,
    "title": {"text": "(a) SS and TH in Channel A", "orient": "bottom", "anchor": "middle", "frame": "group", "fontSize": 34, "offset": 31, "dx": -11},
    "layer": [
     {"layer": [
       {"data": {"name": "ssAI"}, "mark": {"type": "line", "color": "#2020ff", "strokeWidth": 1.6, "strokeDash": [1.5, 3.5]},
        "encoding": {"x": {"field": "t", "type": "quantitative", "scale": {"domain": [0, 60], "nice": false}, "axis": {"values": [0,10,20,30,40,50,60], "title": "Time index(s)", "labelFontSize": 14.5, "titleFontSize": 15, "labelPadding": 9, "tickSize": -4, "titlePadding": 2, "labelFlush": false}},
          "y": {"field": "v", "type": "quantitative", "scale": {"domain": [-20, 50], "nice": false}, "axis": {"orient": "left", "values": [0, 50], "title": "Signal Strength", "labelColor": "#3c3cff", "titleColor": "#3c3cff", "domainColor": "#3c3cff", "tickColor": "#3c3cff", "labelFontSize": 14.5, "titleFontSize": 15, "labelPadding": 10, "tickSize": -4, "titlePadding": 5}}}},
       {"data": {"name": "ssAM"}, "mark": {"type": "line", "color": "#0000ff", "strokeWidth": 1.8},
        "encoding": {"x": {"field": "t", "type": "quantitative"}, "y": {"field": "v", "type": "quantitative"}}}
     ]},
     {"layer": [
       {"data": {"name": "thAI"}, "mark": {"type": "line", "color": "#20b040", "strokeWidth": 1.6, "strokeDash": [1.5, 3.5]},
        "encoding": {"x": {"field": "t", "type": "quantitative"},
          "y": {"field": "v", "type": "quantitative", "scale": {"domain": [0, 8], "nice": false}, "axis": {"orient": "right", "values": [0,1,2,3,4], "title": "Throughput(Kbps)", "titleAngle": 270, "titleBaseline": "top", "labelColor": "#169c16", "titleColor": "#169c16", "domainColor": "#169c16", "tickColor": "#169c16", "labelFontSize": 14.5, "titleFontSize": 15, "labelPadding": 11, "tickSize": -4, "titlePadding": 3}}}},
       {"data": {"name": "thAM"}, "mark": {"type": "line", "color": "#008000", "strokeWidth": 2, "interpolate": "step-after"},
        "encoding": {"x": {"field": "t", "type": "quantitative"}, "y": {"field": "v", "type": "quantitative"}}},
       {"data": {"values": [{}]}, "mark": {"type": "text", "text": "x 10⁴", "align": "left", "baseline": "bottom", "dy": -7, "fontSize": 14, "color": "#169c16", "font": "Liberation Serif"},
        "encoding": {"x": {"datum": 60, "type": "quantitative"}, "y": {"datum": 8, "type": "quantitative"}}}
     ]}
    ],
    "resolve": {"scale": {"y": "independent"}}
   },
   {"width": 174, "height": 1, "data": {"values": []}, "mark": "point", "view": {"stroke": null}},
   {
    "width": 486, "height": 383,
    "title": {"text": "(b) SS and TH in Channel C", "orient": "bottom", "anchor": "middle", "frame": "group", "fontSize": 34, "offset": 31, "dx": -11},
    "layer": [
     {"layer": [
       {"data": {"name": "ssBI"}, "mark": {"type": "line", "color": "#2020ff", "strokeWidth": 1.6, "strokeDash": [1.5, 3.5]},
        "encoding": {"x": {"field": "t", "type": "quantitative", "scale": {"domain": [0, 40], "nice": false}, "axis": {"values": [0,5,10,15,20,25,30,35,40], "title": "Time index(s)", "labelFontSize": 14.5, "titleFontSize": 15, "labelPadding": 9, "tickSize": -4, "titlePadding": 2, "labelFlush": false}},
          "y": {"field": "v", "type": "quantitative", "scale": {"domain": [-20, 50], "nice": false}, "axis": {"orient": "left", "values": [-20, 0, 20, 40], "title": "Signal Strength", "labelColor": "#3c3cff", "titleColor": "#3c3cff", "domainColor": "#3c3cff", "tickColor": "#3c3cff", "labelFontSize": 14.5, "titleFontSize": 15, "labelPadding": 13, "tickSize": -4, "titlePadding": 4}}}},
       {"data": {"name": "ssBM"}, "mark": {"type": "line", "color": "#0000ff", "strokeWidth": 1.8},
        "encoding": {"x": {"field": "t", "type": "quantitative"}, "y": {"field": "v", "type": "quantitative"}}}
     ]},
     {"layer": [
       {"data": {"name": "thBI"}, "mark": {"type": "line", "color": "#20b040", "strokeWidth": 1.6, "strokeDash": [1.5, 3.5]},
        "encoding": {"x": {"field": "t", "type": "quantitative"},
          "y": {"field": "v", "type": "quantitative", "scale": {"domain": [0, 8.13], "nice": false}, "axis": {"orient": "right", "values": [0, 2], "title": "Throughput(Kbps)", "titleAngle": 270, "titleBaseline": "top", "labelColor": "#169c16", "titleColor": "#169c16", "domainColor": "#169c16", "tickColor": "#169c16", "labelFontSize": 14.5, "titleFontSize": 15, "labelPadding": 9, "tickSize": -4, "titlePadding": 16}}}},
       {"data": {"name": "thBM"}, "mark": {"type": "line", "color": "#008000", "strokeWidth": 2, "interpolate": "step-after"},
        "encoding": {"x": {"field": "t", "type": "quantitative"}, "y": {"field": "v", "type": "quantitative"}}},
       {"data": {"values": [{}]}, "mark": {"type": "text", "text": "x 10⁴", "align": "left", "baseline": "bottom", "dy": -7, "fontSize": 14, "color": "#169c16", "font": "Liberation Serif"},
        "encoding": {"x": {"datum": 40, "type": "quantitative"}, "y": {"datum": 8.13, "type": "quantitative"}}}
     ]}
    ],
    "resolve": {"scale": {"y": "independent"}}
   },
   {"width": 96, "height": 1, "data": {"values": []}, "mark": "point", "view": {"stroke": null}},
   {"width": 51, "height": 1, "data": {"values": []}, "mark": "point", "view": {"stroke": null}},
   {"width": 1, "height": 1, "data": {"values": []}, "mark": "point", "view": {"stroke": null}},

   {"width": 41, "height": 1, "data": {"values": []}, "mark": "point", "view": {"stroke": null}},
   {"width": 1, "height": 1, "data": {"values": []}, "mark": "point", "view": {"stroke": null}},
   {"width": 174, "height": 1, "data": {"values": []}, "mark": "point", "view": {"stroke": null}},
   {"width": 1, "height": 1, "data": {"values": []}, "mark": "point", "view": {"stroke": null}},
   {"width": 96, "height": 1, "data": {"values": []}, "mark": "point", "view": {"stroke": null}},
   {
    "width": 51, "height": 30, "view": {"stroke": null}, "data": {"name": "algs"},
    "encoding": {"y": {"field": "alg", "type": "nominal", "scale": {"type": "point", "domain": ["Minstrel", "IRA"], "padding": 0}, "axis": null}},
    "layer": [
     {"mark": {"type": "rule", "color": "#333333", "strokeWidth": 1.5},
      "encoding": {"x": {"datum": 0, "type": "quantitative", "scale": {"domain": [0, 1], "nice": false}, "axis": null}, "x2": {"datum": 1},
        "strokeDash": {"field": "alg", "type": "nominal", "scale": {"domain": ["Minstrel", "IRA"], "range": [[1, 0], [1.5, 3]]}, "legend": null}}},
     {"mark": {"type": "text", "align": "left", "baseline": "middle", "dx": 3, "font": "Liberation Serif", "fontSize": 23, "color": "black"},
      "encoding": {"x": {"datum": 1, "type": "quantitative"}, "text": {"field": "alg"}}}
    ]
   },
   {"width": 1, "height": 170, "data": {"values": []}, "mark": "point", "view": {"stroke": null}}
  ]
 },
 {
  "columns": 5, "align": "each", "bounds": "flush", "spacing": {"row": 76, "column": 0},
  "resolve": {"scale": {"color": "independent"}, "legend": {"color": "independent"}},
  "concat": [
   {"width": 95, "height": 1, "data": {"values": []}, "mark": "point", "view": {"stroke": null}},
   {
    "width": 436, "height": 177,
    "layer": [
     {"data": {"name": "cTs"}, "mark": {"type": "rule", "strokeWidth": 1.3},
      "encoding": {"x": {"field": "t", "type": "quantitative", "scale": {"domain": [0, 50], "nice": false}, "axis": {"values": [0,10,20,30,40,50], "labelFontSize": 26, "labelPadding": 12, "tickSize": -5, "labelFlush": false, "title": null}},
        "y": {"field": "v", "type": "quantitative", "scale": {"domain": [0, 300], "nice": false}, "axis": {"values": [0,100,200,300], "labelFontSize": 26, "labelPadding": 12, "tickSize": -5, "title": null}},
        "y2": {"datum": 0},
        "color": {"field": "r", "type": "nominal", "scale": {"domain": ["1Mbps","2Mbps","5.5Mbps","11Mbps","6Mbps","9Mbps","12Mbps","18Mbps","24Mbps","36Mbps","48Mbps","54Mbps"], "range": ["#00008f","#0000df","#0040ff","#00a0ff","#00ffff","#60ffa0","#a8ff48","#ffe800","#ff9000","#ff3000","#cc0000","#800000"]}, "legend": null}}},
     {"data": {"name": "cTm"}, "mark": {"type": "area", "interpolate": "step-after", "color": "#800000", "opacity": 1},
      "encoding": {"x": {"field": "t", "type": "quantitative"}, "y": {"field": "v", "type": "quantitative", "stack": null}}},
     {"data": {"name": "cTb"}, "mark": {"type": "rect"},
      "encoding": {"x": {"field": "t", "type": "quantitative"}, "x2": {"field": "t2"}, "y": {"field": "v", "type": "quantitative"}, "y2": {"datum": 0},
        "color": {"field": "r", "type": "nominal", "legend": null}}}
    ]
   },
   {"width": 160, "height": 1, "data": {"values": []}, "mark": "point", "view": {"stroke": null}},
   {
    "width": 437, "height": 177,
    "resolve": {"legend": {"color": "independent"}},
    "layer": [
     {"data": {"name": "dTs"}, "mark": {"type": "rule", "strokeWidth": 1.3},
      "encoding": {"x": {"field": "t", "type": "quantitative", "scale": {"domain": [0, 40.3], "nice": false}, "axis": {"values": [0,10,20,30,40], "labelFontSize": 26, "labelPadding": 12, "tickSize": -5, "labelFlush": false, "title": null}},
        "y": {"field": "v", "type": "quantitative", "scale": {"domain": [0, 200], "nice": false}, "axis": {"values": [0,100,200], "labelFontSize": 26, "labelPadding": 12, "tickSize": -5, "title": null}},
        "y2": {"datum": 0},
        "color": {"field": "r", "type": "nominal", "scale": {"domain": ["1Mbps","2Mbps","5.5Mbps","11Mbps","6Mbps","9Mbps","12Mbps","18Mbps","24Mbps","36Mbps","48Mbps","54Mbps"], "range": ["#00008f","#0000df","#0040ff","#00a0ff","#00ffff","#60ffa0","#a8ff48","#ffe800","#ff9000","#ff3000","#cc0000","#800000"]}, "legend": null}}},
     {"data": {"name": "dTm"}, "mark": {"type": "area", "interpolate": "step-after", "color": "#ff3000", "opacity": 1},
      "encoding": {"x": {"field": "t", "type": "quantitative"}, "y": {"field": "v", "type": "quantitative", "stack": null}}},
     {"data": {"name": "dTb"}, "mark": {"type": "rect"},
      "encoding": {"x": {"field": "t", "type": "quantitative"}, "x2": {"field": "t2"}, "y": {"field": "v", "type": "quantitative"}, "y2": {"datum": 0},
        "color": {"field": "r", "type": "nominal",
          "legend": {"orient": "none", "legendX": 540.5, "legendY": 28, "title": null, "padding": 0, "direction": "vertical",
            "values": ["1Mbps","2Mbps","5.5Mbps","11Mbps","6Mbps","9Mbps","12Mbps","18Mbps","24Mbps","36Mbps","48Mbps","54Mbps"],
            "symbolType": "M-1.5476,-0.7143H1.5476V0.7143H-1.5476Z", "symbolSize": 1764, "symbolStrokeColor": "#555555", "symbolStrokeWidth": 0.6, "symbolOpacity": 1,
            "labelFont": "Liberation Serif", "labelFontSize": 29, "labelFontWeight": "bold", "labelColor": "black", "labelOffset": 17.5, "labelLimit": 300, "rowPadding": 0.6}}}}
    ]
   },
   {"width": 1, "height": 1, "data": {"values": []}, "mark": "point", "view": {"stroke": null}},
   {"width": 95, "height": 1, "data": {"values": []}, "mark": "point", "view": {"stroke": null}},
   {
    "width": 436, "height": 178,
    "title": {"text": "(c) Rate selection in Channel A", "orient": "bottom", "anchor": "middle", "frame": "group", "fontSize": 34, "offset": 16, "dx": -9},
    "layer": [
     {"data": {"name": "cBs"}, "mark": {"type": "rule", "strokeWidth": 1.3},
      "encoding": {"x": {"field": "t", "type": "quantitative", "scale": {"domain": [0, 50], "nice": false}, "axis": {"values": [0,10,20,30,40,50], "labelFontSize": 26, "labelPadding": 12, "tickSize": -5, "labelFlush": false, "title": "Time(s)", "titleFontSize": 26, "titlePadding": 2}},
        "y": {"field": "v", "type": "quantitative", "scale": {"domain": [0, 300], "nice": false}, "axis": {"values": [0,100,200,300], "labelFontSize": 26, "labelPadding": 12, "tickSize": -5, "title": null}},
        "y2": {"datum": 0},
        "color": {"field": "r", "type": "nominal", "scale": {"domain": ["1Mbps","2Mbps","5.5Mbps","11Mbps","6Mbps","9Mbps","12Mbps","18Mbps","24Mbps","36Mbps","48Mbps","54Mbps"], "range": ["#00008f","#0000df","#0040ff","#00a0ff","#00ffff","#60ffa0","#a8ff48","#ffe800","#ff9000","#ff3000","#cc0000","#800000"]}, "legend": null}}},
     {"data": {"name": "cBm"}, "mark": {"type": "area", "interpolate": "step-after", "color": "#cc0000", "opacity": 1},
      "encoding": {"x": {"field": "t", "type": "quantitative"}, "y": {"field": "v", "type": "quantitative", "stack": null}}},
     {"data": {"name": "cBb"}, "mark": {"type": "rect"},
      "encoding": {"x": {"field": "t", "type": "quantitative"}, "x2": {"field": "t2"}, "y": {"field": "v", "type": "quantitative"}, "y2": {"datum": 0},
        "color": {"field": "r", "type": "nominal", "legend": null}}}
    ]
   },
   {"width": 160, "height": 1, "data": {"values": []}, "mark": "point", "view": {"stroke": null}},
   {
    "width": 437, "height": 178,
    "title": {"text": "(d) Rate selection in Channel C", "orient": "bottom", "anchor": "middle", "frame": "group", "fontSize": 34, "offset": 16, "dx": -8},
    "layer": [
     {"data": {"name": "dBs"}, "mark": {"type": "rule", "strokeWidth": 1.3},
      "encoding": {"x": {"field": "t", "type": "quantitative", "scale": {"domain": [0, 40.3], "nice": false}, "axis": {"values": [0,10,20,30,40], "labelFontSize": 26, "labelPadding": 12, "tickSize": -5, "labelFlush": false, "title": "Time(s)", "titleFontSize": 26, "titlePadding": 2}},
        "y": {"field": "v", "type": "quantitative", "scale": {"domain": [0, 200], "nice": false}, "axis": {"values": [0,100,200], "labelFontSize": 26, "labelPadding": 12, "tickSize": -5, "title": null}},
        "y2": {"datum": 0},
        "color": {"field": "r", "type": "nominal", "scale": {"domain": ["1Mbps","2Mbps","5.5Mbps","11Mbps","6Mbps","9Mbps","12Mbps","18Mbps","24Mbps","36Mbps","48Mbps","54Mbps"], "range": ["#00008f","#0000df","#0040ff","#00a0ff","#00ffff","#60ffa0","#a8ff48","#ffe800","#ff9000","#ff3000","#cc0000","#800000"]}, "legend": null}}},
     {"data": {"name": "dBm"}, "mark": {"type": "area", "interpolate": "step-after", "color": "#ff9000", "opacity": 1},
      "encoding": {"x": {"field": "t", "type": "quantitative"}, "y": {"field": "v", "type": "quantitative", "stack": null}}},
     {"data": {"name": "dBb"}, "mark": {"type": "rect"},
      "encoding": {"x": {"field": "t", "type": "quantitative"}, "x2": {"field": "t2"}, "y": {"field": "v", "type": "quantitative"}, "y2": {"datum": 0},
        "color": {"field": "r", "type": "nominal", "legend": null}}}
    ]
   },
   {"width": 1, "height": 363, "data": {"values": []}, "mark": "point", "view": {"stroke": null}}
  ]
 },
 {
  "columns": 4, "align": "each", "bounds": "flush", "spacing": {"row": 77, "column": 0},
  "resolve": {"scale": {"color": "independent"}, "legend": {"color": "independent"}},
  "concat": [
   {"width": 204, "height": 1, "data": {"values": []}, "mark": "point", "view": {"stroke": null}},
   {
    "width": 436, "height": 177,
    "layer": [
     {"data": {"name": "eTs"}, "mark": {"type": "rule", "strokeWidth": 1.3},
      "encoding": {"x": {"field": "t", "type": "quantitative", "scale": {"domain": [0, 40.3], "nice": false}, "axis": {"values": [0,10,20,30,40], "labelFontSize": 26, "labelPadding": 12, "tickSize": -5, "labelFlush": false, "title": null}},
        "y": {"field": "v", "type": "quantitative", "scale": {"domain": [0, 300], "nice": false}, "axis": {"values": [0,100,200,300], "labelFontSize": 26, "labelPadding": 12, "tickSize": -5, "title": null}},
        "y2": {"datum": 0},
        "color": {"field": "r", "type": "nominal", "scale": {"domain": ["1Mbps","2Mbps","5.5Mbps","11Mbps","6Mbps","9Mbps","12Mbps","18Mbps","24Mbps","36Mbps","48Mbps","54Mbps"], "range": ["#00008f","#0000df","#0040ff","#00a0ff","#00ffff","#60ffa0","#a8ff48","#ffe800","#ff9000","#ff3000","#cc0000","#800000"]}, "legend": null}}},
     {"data": {"name": "eTm"}, "mark": {"type": "area", "interpolate": "step-after", "color": "#ff9000", "opacity": 1},
      "encoding": {"x": {"field": "t", "type": "quantitative"}, "y": {"field": "v", "type": "quantitative", "stack": null}}},
     {"data": {"name": "eTb"}, "mark": {"type": "rect"},
      "encoding": {"x": {"field": "t", "type": "quantitative"}, "x2": {"field": "t2"}, "y": {"field": "v", "type": "quantitative"}, "y2": {"datum": 0},
        "color": {"field": "r", "type": "nominal", "legend": null}}}
    ]
   },
   {"width": 162, "height": 1, "data": {"values": []}, "mark": "point", "view": {"stroke": null}},
   {
    "width": 437, "height": 177,
    "layer": [
     {"data": {"name": "fTs"}, "mark": {"type": "rule", "strokeWidth": 1.3},
      "encoding": {"x": {"field": "t", "type": "quantitative", "scale": {"domain": [0, 43], "nice": false}, "axis": {"values": [0,10,20,30,40], "labelFontSize": 26, "labelPadding": 12, "tickSize": -5, "labelFlush": false, "title": null}},
        "y": {"field": "v", "type": "quantitative", "scale": {"domain": [0, 200], "nice": false}, "axis": {"values": [0,100,200], "labelFontSize": 26, "labelPadding": 12, "tickSize": -5, "title": null}},
        "y2": {"datum": 0},
        "color": {"field": "r", "type": "nominal", "scale": {"domain": ["1Mbps","2Mbps","5.5Mbps","11Mbps","6Mbps","9Mbps","12Mbps","18Mbps","24Mbps","36Mbps","48Mbps","54Mbps"], "range": ["#00008f","#0000df","#0040ff","#00a0ff","#00ffff","#60ffa0","#a8ff48","#ffe800","#ff9000","#ff3000","#cc0000","#800000"]}, "legend": null}}},
     {"data": {"name": "fTm"}, "mark": {"type": "area", "interpolate": "step-after", "color": "#ff9000", "opacity": 1},
      "encoding": {"x": {"field": "t", "type": "quantitative"}, "y": {"field": "v", "type": "quantitative", "stack": null}}},
     {"data": {"name": "fTb"}, "mark": {"type": "rect"},
      "encoding": {"x": {"field": "t", "type": "quantitative"}, "x2": {"field": "t2"}, "y": {"field": "v", "type": "quantitative"}, "y2": {"datum": 0},
        "color": {"field": "r", "type": "nominal", "legend": null}}}
    ]
   },
   {"width": 204, "height": 1, "data": {"values": []}, "mark": "point", "view": {"stroke": null}},
   {
    "width": 436, "height": 176,
    "title": {"text": "(e) MR effect on Minstrel", "orient": "bottom", "anchor": "middle", "frame": "group", "fontSize": 34, "offset": 17, "dx": -8},
    "layer": [
     {"data": {"name": "eBs"}, "mark": {"type": "rule", "strokeWidth": 1.3},
      "encoding": {"x": {"field": "t", "type": "quantitative", "scale": {"domain": [0, 40.3], "nice": false}, "axis": {"values": [0,10,20,30,40], "labelFontSize": 26, "labelPadding": 12, "tickSize": -5, "labelFlush": false, "title": "Time(s)", "titleFontSize": 26, "titlePadding": 2}},
        "y": {"field": "v", "type": "quantitative", "scale": {"domain": [0, 300], "nice": false}, "axis": {"values": [0,100,200,300], "labelFontSize": 26, "labelPadding": 12, "tickSize": -5, "title": null}},
        "y2": {"datum": 0},
        "color": {"field": "r", "type": "nominal", "scale": {"domain": ["1Mbps","2Mbps","5.5Mbps","11Mbps","6Mbps","9Mbps","12Mbps","18Mbps","24Mbps","36Mbps","48Mbps","54Mbps"], "range": ["#00008f","#0000df","#0040ff","#00a0ff","#00ffff","#60ffa0","#a8ff48","#ffe800","#ff9000","#ff3000","#cc0000","#800000"]}, "legend": null}}},
     {"data": {"name": "eBm"}, "mark": {"type": "area", "interpolate": "step-after", "color": "#ff3000", "opacity": 1},
      "encoding": {"x": {"field": "t", "type": "quantitative"}, "y": {"field": "v", "type": "quantitative", "stack": null}}},
     {"data": {"name": "eBb"}, "mark": {"type": "rect"},
      "encoding": {"x": {"field": "t", "type": "quantitative"}, "x2": {"field": "t2"}, "y": {"field": "v", "type": "quantitative"}, "y2": {"datum": 0},
        "color": {"field": "r", "type": "nominal", "legend": null}}}
    ]
   },
   {"width": 162, "height": 1, "data": {"values": []}, "mark": "point", "view": {"stroke": null}},
   {
    "width": 437, "height": 176,
    "title": {"text": "(f) MR effect on Context-aware", "orient": "bottom", "anchor": "middle", "frame": "group", "fontSize": 34, "offset": 17, "dx": -3},
    "layer": [
     {"data": {"name": "fBs"}, "mark": {"type": "rule", "strokeWidth": 1.3},
      "encoding": {"x": {"field": "t", "type": "quantitative", "scale": {"domain": [0, 43], "nice": false}, "axis": {"values": [0,10,20,30,40], "labelFontSize": 26, "labelPadding": 12, "tickSize": -5, "labelFlush": false, "title": "Time(s)", "titleFontSize": 26, "titlePadding": 2}},
        "y": {"field": "v", "type": "quantitative", "scale": {"domain": [0, 200], "nice": false}, "axis": {"values": [0,100,200], "labelFontSize": 26, "labelPadding": 12, "tickSize": -5, "title": null}},
        "y2": {"datum": 0},
        "color": {"field": "r", "type": "nominal", "scale": {"domain": ["1Mbps","2Mbps","5.5Mbps","11Mbps","6Mbps","9Mbps","12Mbps","18Mbps","24Mbps","36Mbps","48Mbps","54Mbps"], "range": ["#00008f","#0000df","#0040ff","#00a0ff","#00ffff","#60ffa0","#a8ff48","#ffe800","#ff9000","#ff3000","#cc0000","#800000"]}, "legend": null}}},
     {"data": {"name": "fBm"}, "mark": {"type": "area", "interpolate": "step-after", "color": "#ff9000", "opacity": 1},
      "encoding": {"x": {"field": "t", "type": "quantitative"}, "y": {"field": "v", "type": "quantitative", "stack": null}}},
     {"data": {"name": "fBb"}, "mark": {"type": "rect"},
      "encoding": {"x": {"field": "t", "type": "quantitative"}, "x2": {"field": "t2"}, "y": {"field": "v", "type": "quantitative"}, "y2": {"datum": 0},
        "color": {"field": "r", "type": "nominal", "legend": null}}}
    ]
   }
  ]
 }
]
}
